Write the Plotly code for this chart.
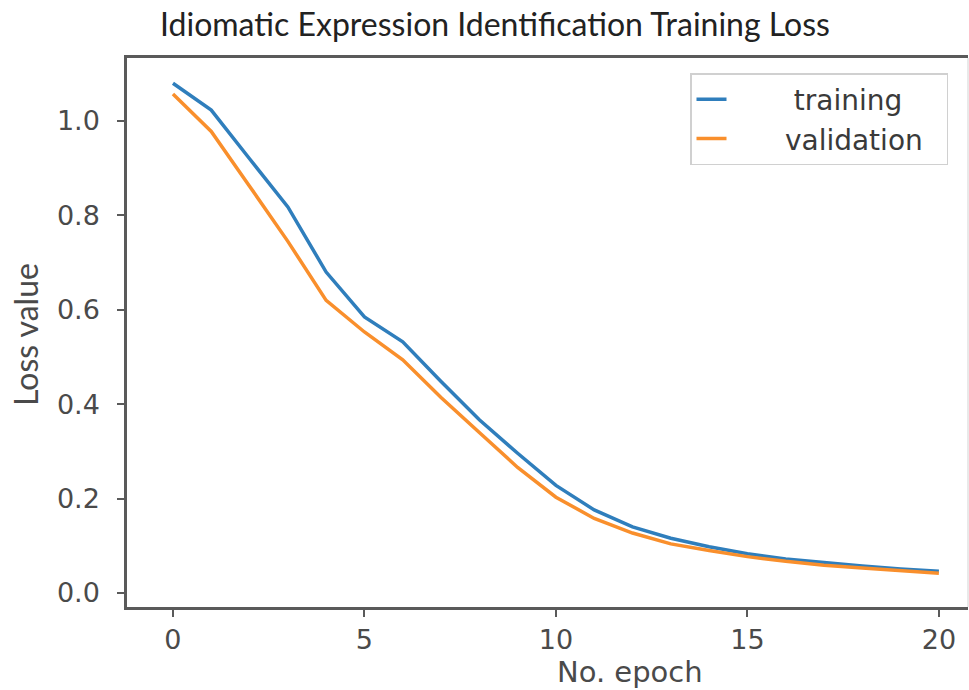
import plotly.graph_objects as go

epochs = list(range(21))
training = [1.08, 1.023, 0.92, 0.818, 0.68, 0.585, 0.532, 0.448, 0.367, 0.296, 0.228,
            0.176, 0.14, 0.116, 0.098, 0.083, 0.072, 0.064, 0.057, 0.051, 0.046]
validation = [1.057, 0.978, 0.862, 0.745, 0.62, 0.553, 0.494, 0.414, 0.34, 0.266, 0.203,
              0.158, 0.127, 0.104, 0.09, 0.077, 0.067, 0.059, 0.053, 0.047, 0.042]

title_text = "Idiomatic Expression Identification Training Loss"
x_label = "No. epoch"
y_label = "Loss value"
series_names = ["training", "validation"]
x_ticks = [0, 5, 10, 15, 20]
y_ticks = [0.0, 0.2, 0.4, 0.6, 0.8, 1.0]

W, H = 969, 690
ML, MR, MT, MB = 127, 1, 58, 83
PW, PH = W - ML - MR, H - MT - MB

tick_font = dict(family="DejaVu Sans", size=27, color="#4a4a4a")
spine = "#5a5a5a"
NB = "\u00a0"

fig = go.Figure()
fig.add_trace(go.Scatter(x=epochs, y=training, mode="lines",
                         name=NB * 7 + series_names[0] + NB * 3,
                         line=dict(color="#2f7ebc", width=3.5)))
fig.add_trace(go.Scatter(x=epochs, y=validation, mode="lines",
                         name=NB * 6 + series_names[1] + NB * 2,
                         line=dict(color="#f98f2c", width=3.5)))

fig.update_layout(
    width=W, height=H,
    margin=dict(l=ML, r=MR, t=MT, b=MB),
    paper_bgcolor="white", plot_bgcolor="white",
    title=dict(text=title_text, x=495 / W, xanchor="center", xref="container",
               y=1 - 25 / H, yanchor="middle", yref="container",
               font=dict(family="Lato", size=32, color="#222222")),
    showlegend=True,
    legend=dict(x=(690 - ML) / PW, y=(MT + PH - 73) / PH, xanchor="left", yanchor="top",
                xref="paper", yref="paper",
                bgcolor="white", bordercolor="#d0d0d0", borderwidth=1.5,
                font=dict(family="DejaVu Sans", size=28, color="#3a3a3a"),
                tracegroupgap=0),
    xaxis=dict(range=[-1.2, 20.76], tickmode="array", tickvals=x_ticks,
               ticktext=[str(v) for v in x_ticks],
               showgrid=False, zeroline=False, showline=True, linecolor=spine, linewidth=2.5,
               mirror=True, ticks="outside", ticklen=7, tickwidth=2, tickcolor=spine,
               tickfont=tick_font),
    yaxis=dict(range=[-0.0297, 1.1335], tickmode="array", tickvals=y_ticks,
               ticktext=[f"{v:.1f}" for v in y_ticks],
               showgrid=False, zeroline=False, showline=True, linecolor=spine, linewidth=2.5,
               mirror=False, ticks="outside", ticklen=7, tickwidth=2, tickcolor=spine,
               tickfont=tick_font, ticklabelstandoff=12),
)

# faint right spine
fig.add_shape(type="line", xref="paper", yref="paper", x0=1, x1=1, y0=0, y1=1,
              line=dict(color="#e2e2e2", width=1.5))

fig.add_annotation(text=x_label, x=(630 - ML) / PW, y=(MT + PH - 672) / PH,
                   xref="paper", yref="paper", showarrow=False, xanchor="center", yanchor="middle",
                   font=dict(family="DejaVu Sans", size=29, color="#4a4a4a"))
fig.add_annotation(text=y_label, x=(25 - ML) / PW, y=(MT + PH - 335) / PH, textangle=-90,
                   xref="paper", yref="paper", showarrow=False, xanchor="center", yanchor="middle",
                   font=dict(family="Lato", size=32, color="#4a4a4a"))

fig.write_html("out.html")
